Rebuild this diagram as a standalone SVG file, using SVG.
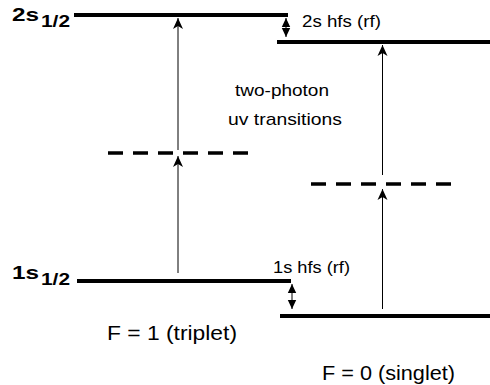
<svg xmlns="http://www.w3.org/2000/svg" width="490" height="385" viewBox="0 0 490 385">
<style>
.lvl{stroke:#000;stroke-width:4;fill:none}
.virt{stroke:#000;stroke-width:3.3;fill:none;stroke-dasharray:15 10}
.arr{stroke:#000;stroke-width:1;fill:none}
.t{font-family:"Liberation Sans",Arial,sans-serif;fill:#000}
.b{font-family:"Liberation Sans",Arial,sans-serif;font-weight:bold;fill:#000}
</style>
<defs>
<marker id="ah" viewBox="-12 -6 13 12" markerWidth="13" markerHeight="12" refX="0" refY="0" orient="auto" markerUnits="userSpaceOnUse">
<path d="M0,0 L-11,-5 L-8,0 L-11,5 Z" fill="#000"/>
</marker>
<marker id="sh" viewBox="-10 -5 11 10" markerWidth="11" markerHeight="10" refX="0" refY="0" orient="auto-start-reverse" markerUnits="userSpaceOnUse">
<path d="M0,0 L-9,-4.2 L-9,4.2 Z" fill="#000"/>
</marker>
</defs>
<rect width="490" height="385" fill="#fff"/>
<g id="level-2s-triplet">
<line class="lvl" x1="74" y1="15" x2="288" y2="15"/>
<text class="b" x="12" y="21" font-size="19" textLength="27" lengthAdjust="spacingAndGlyphs">2s</text>
<text class="b" x="41" y="27" font-size="17" textLength="29" lengthAdjust="spacingAndGlyphs">1/2</text>
</g>
<g id="level-2s-singlet">
<line class="lvl" x1="277" y1="42" x2="490" y2="42"/>
<text class="t" x="302" y="27" font-size="17" textLength="79" lengthAdjust="spacingAndGlyphs">2s hfs (rf)</text>
</g>
<g id="virtual-triplet">
<line class="virt" x1="108" y1="153" x2="250" y2="153"/>
</g>
<g id="virtual-singlet">
<line class="virt" x1="311" y1="184" x2="453" y2="184"/>
</g>
<g id="level-1s-triplet">
<line class="lvl" x1="77" y1="281" x2="291" y2="281"/>
<text class="b" x="12" y="279" font-size="19" textLength="27" lengthAdjust="spacingAndGlyphs">1s</text>
<text class="b" x="41" y="285" font-size="17" textLength="29" lengthAdjust="spacingAndGlyphs">1/2</text>
<text class="t" x="273" y="273" font-size="17" textLength="77" lengthAdjust="spacingAndGlyphs">1s hfs (rf)</text>
</g>
<g id="level-1s-singlet">
<line class="lvl" x1="280" y1="316" x2="490" y2="316"/>
</g>
<g id="labels">
<text class="t" x="235" y="96" font-size="17" textLength="94" lengthAdjust="spacingAndGlyphs">two-photon</text>
<text class="t" x="228" y="125" font-size="17" textLength="114" lengthAdjust="spacingAndGlyphs">uv transitions</text>
<text class="t" x="107" y="340" font-size="20" textLength="130" lengthAdjust="spacingAndGlyphs">F = 1 (triplet)</text>
<text class="t" x="322" y="380" font-size="20" textLength="133" lengthAdjust="spacingAndGlyphs">F = 0 (singlet)</text>
</g>
<g id="connectors">
<line class="arr" x1="178" y1="150" x2="178" y2="18" marker-end="url(#ah)"/>
<line class="arr" x1="178" y1="273" x2="178" y2="156" marker-end="url(#ah)"/>
<line class="arr" x1="382.5" y1="175" x2="382.5" y2="45" marker-end="url(#ah)"/>
<line class="arr" x1="382.5" y1="309" x2="382.5" y2="189" marker-end="url(#ah)"/>
<line class="arr" x1="286" y1="18" x2="286" y2="37" marker-start="url(#sh)" marker-end="url(#sh)"/>
<line class="arr" x1="292" y1="284" x2="292" y2="309" marker-start="url(#sh)" marker-end="url(#sh)"/>
</g>
</svg>
